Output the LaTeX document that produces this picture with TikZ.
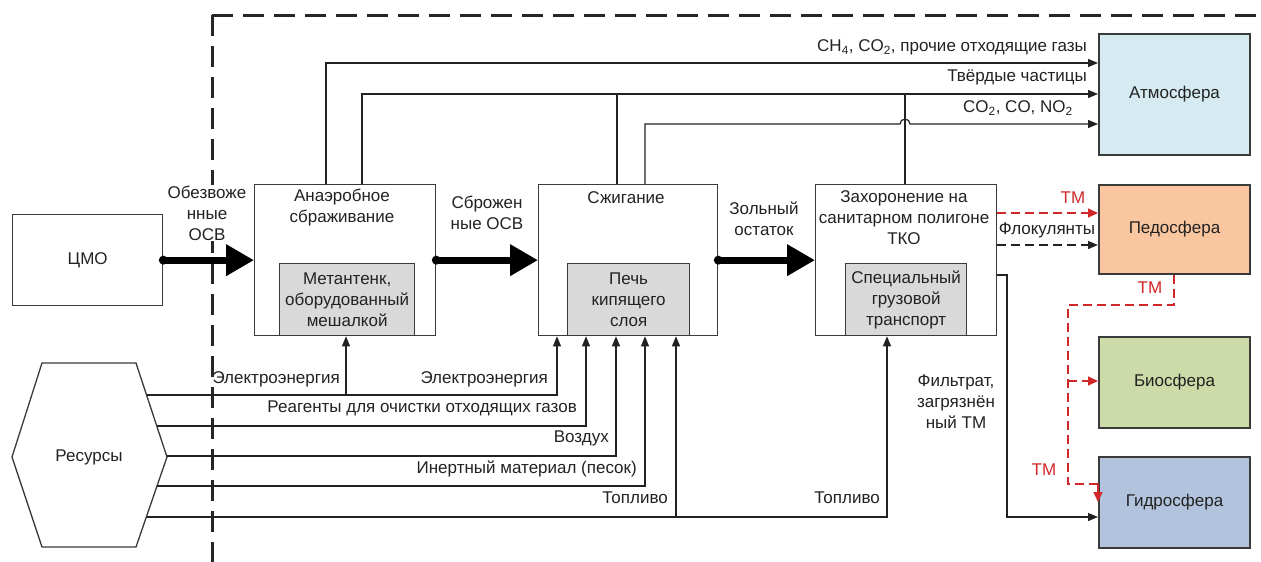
\documentclass[tikz,border=0pt]{standalone}
\usepackage{fontspec}
\setmainfont{Liberation Sans}
\usetikzlibrary{arrows.meta}
\definecolor{ink}{HTML}{222222}
\definecolor{edge}{HTML}{3A3A3A}
\definecolor{unitfill}{HTML}{D9D9D9}
\definecolor{atmofill}{HTML}{D5EBF1}
\definecolor{pedofill}{HTML}{F9C6A0}
\definecolor{biofill}{HTML}{CCDBA7}
\definecolor{hydrofill}{HTML}{B2C4DD}
\definecolor{tmred}{HTML}{D02828}
\tikzset{
  every node/.style={font=\fontsize{17}{21}\selectfont, text=ink, inner sep=0pt, align=center},
  stage/.style={draw=edge, line width=1.3pt, fill=white, anchor=north west},
  unit/.style={draw=edge, line width=1.3pt, fill=unitfill, anchor=north west},
  sphere/.style={draw=edge, line width=2pt, anchor=north west, minimum width=151pt},
  wire/.style={draw=ink, line width=1.2pt},
  flow/.style={wire, -{Triangle[length=10pt 0,width=8pt 0]}},
  bulk/.style={draw=black, line width=7pt, -{Triangle[length=28pt 0,width=30pt 0]}},
  tmflow/.style={draw=tmred, line width=1.6pt, dash pattern=on 9pt off 5pt, -{Triangle[length=10pt 0,width=9pt 0]}},
  tmwire/.style={draw=tmred, line width=1.6pt, dash pattern=on 9pt off 5pt},
  flokflow/.style={draw=ink, line width=1.4pt, dash pattern=on 9pt off 5pt, -{Triangle[length=10pt 0,width=8pt 0]}},
  tmlabel/.style={text=tmred},
  border/.style={draw=black!85, line width=3pt, dash pattern=on 21pt off 10pt}
}
\begin{document}
\begin{tikzpicture}[x=1pt,y=-1pt]
\useasboundingbox (0,0) rectangle (1261,562);

% system boundary
\draw[border] (212,15) -- (1261,15);
\draw[border] (212,15) -- (212,562);

% source and process stages
\node[stage, minimum width=150pt, minimum height=91pt] (cmo) at (12,214) {ЦМО};

\node[stage, minimum width=181pt, minimum height=151pt] (anaer) at (254,184) {};
\node[unit, minimum width=135pt, minimum height=72pt] (tank) at (279,263) {Метантенк,\\оборудованный\\мешалкой};
\node (anaerT) at (342,208) {Анаэробное\\сбраживание};

\node[stage, minimum width=179pt, minimum height=151pt] (burn) at (538,184) {};
\node[unit, minimum width=122pt, minimum height=72pt] (furnace) at (567,263) {Печь\\кипящего\\слоя};
\node (burnT) at (626,198) {Сжигание};

\node[stage, minimum width=181pt, minimum height=151pt] (bury) at (815,184) {};
\node[unit, minimum width=121pt, minimum height=72pt] (truck) at (845,263) {Специальный\\грузовой\\транспорт};
\node (buryT) at (904,218) {Захоронение на\\санитарном полигоне\\ТКО};

% environment compartments
\node[sphere, fill=atmofill, minimum height=121pt] (atmo) at (1098,33) {Атмосфера};
\node[sphere, fill=pedofill, minimum height=89pt] (pedo) at (1098,184) {Педосфера};
\node[sphere, fill=biofill, minimum height=91pt] (bio) at (1098,336) {Биосфера};
\node[sphere, fill=hydrofill, minimum height=91pt] (hydro) at (1098,456) {Гидросфера};

% resources hexagon
\draw[draw=edge, line width=1.3pt, fill=white] (42,363) -- (136,363) -- (167,457) -- (136,547) -- (42,547) -- (12,457) -- cycle;
\node (res) at (89,457) {Ресурсы};
\coordinate (r1) at (147,395);
\coordinate (r2) at (157,426);
\coordinate (r3) at (167,456);
\coordinate (r4) at (157,486);
\coordinate (r5) at (147,517);
\coordinate (tapE) at (346,395);
\coordinate (tapF) at (676,517);

% main sludge flow
\node[fill=white, inner sep=1pt] (l1) at (207,213) {Обезвоже\\нные\\ОСВ};
\draw[bulk] (cmo.east) -- (anaer.west);
\fill (cmo.east) circle (4.5);
\node (l2) at (487,213) {Сброжен\\ные ОСВ};
\draw[bulk] (anaer.east) -- (burn.west);
\fill (anaer.east) circle (4.5);
\node (l3) at (764,219) {Зольный\\остаток};
\draw[bulk] (burn.east) -- (bury.west);
\fill (burn.east) circle (4.5);

% emissions to the atmosphere
\draw[flow] (anaer.north -| 326,0) |- (atmo.west |- 0,63);
\draw[flow] (anaer.north -| 362,0) |- (atmo.west |- 0,94);
\draw[wire] (burn.north -| 617,0) -- (617,94);
\draw[wire] (bury.north -| 905,0) -- (905,94);
\draw[flow] (burn.north -| 645,0) -- (645,124) -- (900,124) arc[start angle=180, end angle=360, radius=5] -- (atmo.west |- 0,124);
\node[anchor=mid east] (g1) at (1087,49) {CH\textsubscript{4}, CO\textsubscript{2}, прочие отходящие газы};
\node[anchor=mid east] (g2) at (1087,79) {Твёрдые частицы};
\node[anchor=mid east] (g3) at (1073,110) {CO\textsubscript{2}, CO, NO\textsubscript{2}};

% resource inputs
\draw[flow] (r1) -| (burn.south -| 557,0);
\draw[flow] (tapE) -- (anaer.south -| 346,0);
\draw[flow] (r2) -| (burn.south -| 586,0);
\draw[flow] (r3) -| (burn.south -| 616,0);
\draw[flow] (r4) -| (burn.south -| 645,0);
\draw[flow] (r5) -| (bury.south -| 887,0);
\draw[flow] (tapF) -- (burn.south -| 676,0);
\node[anchor=mid east] (e1) at (340,381) {Электроэнергия};
\node[anchor=mid east] (e2) at (548,381) {Электроэнергия};
\node[anchor=mid east] (e3) at (577,410) {Реагенты для очистки отходящих газов};
\node[anchor=mid east] (e4) at (609,440) {Воздух};
\node[anchor=mid east] (e5) at (637,471) {Инертный материал (песок)};
\node[anchor=mid east] (e6) at (668,501) {Топливо};
\node[anchor=mid east] (e7) at (880,501) {Топливо};

% landfill releases
\draw[tmflow] (bury.east |- 0,213) -- (pedo.west |- 0,213);
\node[tmlabel] (tm1) at (1073,198) {ТМ};
\draw[flokflow] (bury.east |- 0,245) -- (pedo.west |- 0,245);
\node (flok) at (1047,230) {Флокулянты};
\draw[flow] (bury.east |- 0,275) -- (1007,275) |- (hydro.west |- 0,517);
\node (filt) at (956,402) {Фильтрат,\\загрязнён\\ный ТМ};

% heavy metal migration
\draw[tmwire] (pedo.south -| 1174,0) -- (1174,305) -- (1068,305) -- (1068,484) -- (1098,484);
\draw[tmflow] (1098,484) -- (1098,502);
\draw[tmflow] (1068,381) -- (bio.west |- 0,381);
\node[tmlabel] (tm2) at (1150,288) {ТМ};
\node[tmlabel] (tm3) at (1044,470) {ТМ};
\end{tikzpicture}
\end{document}
